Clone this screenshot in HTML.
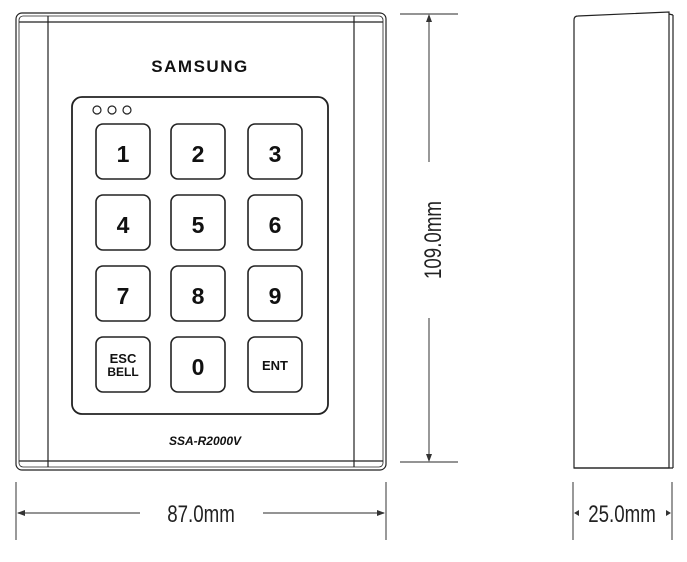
<!DOCTYPE html>
<html><head><meta charset="utf-8"><style>html,body{margin:0;padding:0;background:#fff}svg{display:block}</style></head>
<body>
<svg width="687" height="562" viewBox="0 0 687 562" xmlns="http://www.w3.org/2000/svg" font-family="Liberation Sans, sans-serif">
<g fill="none" stroke="#222" stroke-width="1.2">
  <rect x="16" y="13" width="370" height="457" rx="6"/>
  <rect x="19" y="16" width="364" height="451" rx="4" stroke-width="0.8"/>
  <line x1="48" y1="16" x2="48" y2="467"/>
  <line x1="354" y1="16" x2="354" y2="467"/>
  <line x1="19" y1="22" x2="383" y2="22"/>
  <line x1="19" y1="461" x2="383" y2="461"/>
  <rect x="72" y="97" width="256" height="317" rx="10" stroke-width="1.8"/>
  <circle cx="97" cy="110" r="4"/><circle cx="112" cy="110" r="4"/><circle cx="127" cy="110" r="4"/>
  <g stroke-width="1.6">
    <rect x="96" y="124" width="54" height="55" rx="7"/><rect x="171" y="124" width="54" height="55" rx="7"/><rect x="248" y="124" width="54" height="55" rx="7"/>
    <rect x="96" y="195" width="54" height="55" rx="7"/><rect x="171" y="195" width="54" height="55" rx="7"/><rect x="248" y="195" width="54" height="55" rx="7"/>
    <rect x="96" y="266" width="54" height="55" rx="7"/><rect x="171" y="266" width="54" height="55" rx="7"/><rect x="248" y="266" width="54" height="55" rx="7"/>
    <rect x="96" y="337" width="54" height="55" rx="7"/><rect x="171" y="337" width="54" height="55" rx="7"/><rect x="248" y="337" width="54" height="55" rx="7"/>
  </g>
  <path d="M574 468 L574 20 Q574 16 578 16 L669 12 L669 468 Z"/>
  <line x1="669" y1="14" x2="673" y2="15"/><line x1="673" y1="15" x2="673" y2="468"/>
  <line x1="574" y1="468" x2="673" y2="468"/>
</g>
<g fill="#111" text-anchor="middle" font-size="23" font-weight="bold">
  <text x="200" y="72" font-size="17" letter-spacing="1.5">SAMSUNG</text>
  <text x="123" y="162">1</text><text x="198" y="162">2</text><text x="275" y="162">3</text>
  <text x="123" y="233">4</text><text x="198" y="233">5</text><text x="275" y="233">6</text>
  <text x="123" y="304">7</text><text x="198" y="304">8</text><text x="275" y="304">9</text>
  <text x="198" y="375">0</text>
  <text x="123" y="363" font-size="13">ESC</text><text x="123" y="376" font-size="12">BELL</text>
  <text x="275" y="370" font-size="13">ENT</text>
  <text x="205" y="445" font-size="12" font-style="italic">SSA-R2000V</text>
</g>
<g stroke="#555" stroke-width="1.2" fill="none">
  <line x1="400" y1="14" x2="458" y2="14"/><line x1="400" y1="462" x2="458" y2="462"/>
  <line x1="429" y1="16" x2="429" y2="162"/><line x1="429" y1="318" x2="429" y2="460"/>
  <line x1="16" y1="482" x2="16" y2="540"/><line x1="386" y1="482" x2="386" y2="540"/>
  <line x1="18" y1="513" x2="140" y2="513"/><line x1="263" y1="513" x2="384" y2="513"/>
  <line x1="573" y1="482" x2="573" y2="540"/><line x1="672" y1="482" x2="672" y2="540"/>
</g>
<g fill="#333">
  <path d="M429 14 l-3 8 h6z"/><path d="M429 462 l-3 -8 h6z"/>
  <path d="M17 513 l8 -3 v6z"/><path d="M385 513 l-8 -3 v6z"/>
  <path d="M574 513 l5 -3 v6z"/><path d="M671 513 l-5 -3 v6z"/>
</g>
<g fill="#222" font-size="24" text-anchor="middle">
  <text transform="translate(441,240) rotate(-90) scale(0.78,1)">109.0mm</text>
  <text transform="translate(201,522) scale(0.78,1)">87.0mm</text>
  <text transform="translate(622,522) scale(0.78,1)">25.0mm</text>
</g>
</svg>
</body></html>
